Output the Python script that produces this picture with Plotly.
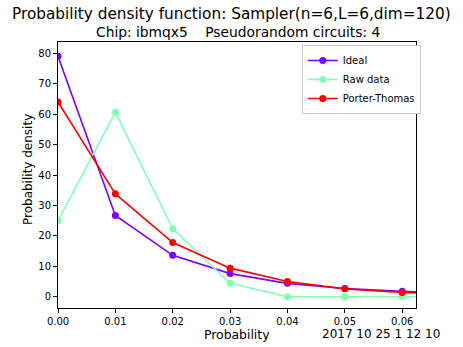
import plotly.graph_objs as go

probability = [0.00, 0.01, 0.02, 0.03, 0.04, 0.05, 0.06, 0.07]
ideal = [79.0, 26.7, 13.6, 7.6, 4.4, 2.7, 1.8, 1.0]
raw_data = [25.0, 60.6, 22.3, 4.4, 0.0, 0.0, 0.0, 0.0]
porter_thomas = [64.0, 33.8, 17.8, 9.4, 5.0, 2.6, 1.4, 0.8]

series = [
    ('Ideal', ideal, '#8000ff'),
    ('Raw data', raw_data, '#80ffb4'),
    ('Porter-Thomas', porter_thomas, '#ff0000'),
]

W, H = 463, 347
L, R, T, B = 58, 47, 42, 39
plot_w = W - L - R
plot_h = H - T - B


def paper_xy(px_x, px_y):
    # pixel position on the page -> paper coordinates
    return (px_x - L) / plot_w, (H - B - px_y) / plot_h


fig = go.Figure()
for name, vals, col in series:
    fig.add_trace(go.Scatter(x=probability, y=vals, mode='lines+markers', name=name,
                             line=dict(color=col, width=1.6),
                             marker=dict(color=col, size=7)))

font = 'DejaVu Sans, sans-serif'
axis = dict(showline=True, linecolor='black', linewidth=1, mirror=True,
            ticks='outside', ticklen=4, tickcolor='black', showgrid=False,
            zeroline=False, automargin=False, tickfont=dict(size=10, color='black'))

texts = [
    ('Probability density function: Sampler(n=6,L=6,dim=120)', 231, 14, 15.3, 'center', 0),
    ('Chip: ibmqx5\u00a0\u00a0\u00a0\u00a0Pseudorandom circuits: 4', 238, 32, 13.8, 'center', 0),
    ('Probability', 237, 334, 12.4, 'center', 0),
    ('2017 10 25 1 12 10', 442, 334, 12, 'right', 0),
    ('Probability density', 28, 170, 12, 'center', -90),
]
annotations = []
for txt, px_x, px_y, size, anchor, angle in texts:
    ax, ay = paper_xy(px_x, px_y)
    annotations.append(dict(text=txt, x=ax, y=ay, xref='paper', yref='paper',
                            xanchor=anchor, yanchor='middle', showarrow=False,
                            textangle=angle, font=dict(size=size)))

fig.update_layout(
    width=W, height=H,
    margin=dict(l=L, r=R, t=T, b=B, autoexpand=False),
    plot_bgcolor='white', paper_bgcolor='white',
    font=dict(family=font, color='black'),
    showlegend=True,
    legend=dict(x=0.681, y=0.989, xanchor='left', yanchor='top',
                bgcolor='white', bordercolor='#cccccc', borderwidth=1,
                font=dict(size=10), tracegroupgap=0, itemwidth=30),
    xaxis=dict(axis, range=[0, 0.0624], tickvals=[0, 0.01, 0.02, 0.03, 0.04, 0.05, 0.06],
               tickformat='.2f'),
    yaxis=dict(axis, range=[-3.7, 83.7], tickvals=[0, 10, 20, 30, 40, 50, 60, 70, 80]),
    annotations=annotations,
)

# drop the default page margin so the figure sits at the window's corner
fig.write_html("out.html", config={'displayModeBar': False},
               post_script="document.body.style.margin='0';")
